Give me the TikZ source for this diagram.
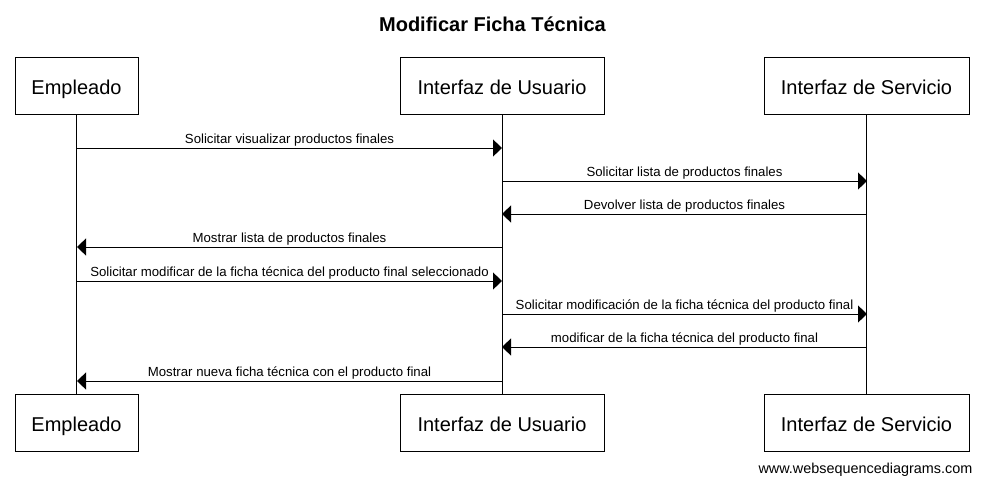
\documentclass[tikz,border=0pt]{standalone}
\usepackage{fontspec}
\setmainfont{Liberation Sans}
\usepackage{tikz}
\usetikzlibrary{arrows.meta}

\begin{document}
\begin{tikzpicture}[x=0.75pt,y=-0.75pt]

      \useasboundingbox (0,0) rectangle (985,486);

      \node[font=\bfseries\fontsize{15}{18}\selectfont] (title) at (492.5,24) {Modificar Ficha Técnica};

      \begin{scope}[every node/.style={draw,line width=0.75pt,minimum height=42.75pt,
          text height=14pt,text depth=1pt,font=\fontsize{15}{18}\selectfont}]
        \node[minimum width=92.25pt] (empT) at (76.5,85.5) {Empleado};
        \node[minimum width=153pt] (usuT) at (502,85.5) {Interfaz de Usuario};
        \node[minimum width=153.75pt] (serT) at (866.5,85.5) {Interfaz de Servicio};
        \node[minimum width=92.25pt] (empB) at (76.5,422.5) {Empleado};
        \node[minimum width=153pt] (usuB) at (502,422.5) {Interfaz de Usuario};
        \node[minimum width=153.75pt] (serB) at (866.5,422.5) {Interfaz de Servicio};
      \end{scope}

      % lifelines
      \draw[line width=0.75pt] (empT) -- (empB);
      \draw[line width=0.75pt] (usuT) -- (usuB);
      \draw[line width=0.75pt] (serT) -- (serB);

      \foreach \y [count=\i] in {148,181,214,247,281,314,347,381} {
        \coordinate (e\i) at (77,\y);
        \coordinate (u\i) at (502,\y);
        \coordinate (s\i) at (867,\y);
      }

      \begin{scope}[>={Triangle[length=6.75pt,width=12.75pt]},
          every node/.style={above,inner sep=2pt,text depth=1pt,font=\fontsize{9.9}{12}\selectfont},
          every edge/.style={draw=black,line width=0.75pt}]
        \path [->] (e1) edge node {Solicitar visualizar productos finales} (u1);
        \path [->] (u2) edge node {Solicitar lista de productos finales} (s2);
        \path [->] (s3) edge node {Devolver lista de productos finales} (u3);
        \path [->] (u4) edge node {Mostrar lista de productos finales} (e4);
        \path [->] (e5) edge node {Solicitar modificar de la ficha técnica del producto final seleccionado} (u5);
        \path [->] (u6) edge node {Solicitar modificación de la ficha técnica del producto final} (s6);
        \path [->] (s7) edge node {modificar de la ficha técnica del producto final} (u7);
        \path [->] (u8) edge node {Mostrar nueva ficha técnica con el producto final} (e8);
      \end{scope}

      \node[anchor=east,font=\fontsize{10.8}{13}\selectfont] (web) at (977,470) {www.websequencediagrams.com};
    \end{tikzpicture}
\end{document}
